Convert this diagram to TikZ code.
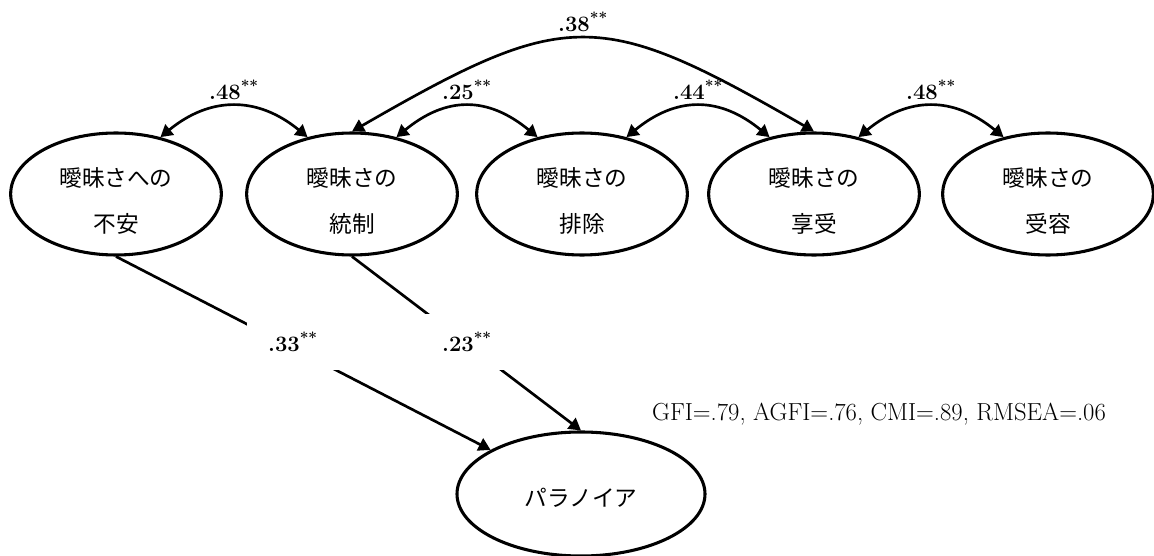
\documentclass[tikz,border=0pt]{standalone}
\usepackage{fontspec}
\usepackage{tikz}
\usetikzlibrary{arrows.meta}
\usetikzlibrary{shapes.geometric}
\newfontfamily\jpfont{Noto Sans CJK JP}

\tikzset{
  >={Triangle[length=9pt,width=10pt]},
  factor/.style={draw, ellipse, line width=2.3pt, minimum width=158pt, minimum height=91.5pt, inner sep=0pt, align=center, text height=58.5pt, font=\jpfont\fontsize{17}{34}\selectfont},
  cov/.style={line width=2pt, <->},
  reg/.style={line width=2pt, ->},
  coef/.style={font=\bfseries\fontsize{16.5}{19}\selectfont, anchor=south, inner sep=4pt},
  coefbox/.style={font=\bfseries\fontsize{16.5}{19}\selectfont, fill=white, minimum width=69pt, minimum height=42pt, inner sep=0pt},
  fitidx/.style={font=\fontsize{18.5}{22}\selectfont, inner sep=0pt}
}

\begin{document}
\begin{tikzpicture}[x=0.75pt,y=0.75pt,yscale=-1,xscale=1]
  \useasboundingbox (0,0) rectangle (1154,556); %diagram is 1154 wide and 556 high
  % Factor Nodes
  \node [factor] (fuan) at (116,194) {曖昧さへの\\不安};
  \node [factor] (tousei) at (352,194) {曖昧さの\\統制};
  \node [factor] (haijo) at (582,194) {曖昧さの\\排除};
  \node [factor] (kyouju) at (814,194) {曖昧さの\\享受};
  \node [factor] (juyou) at (1048,194) {曖昧さの\\受容};
  % Outcome Node
  \node [factor, minimum width=186pt, minimum height=93pt, text height=20pt] (para) at (581,494) {パラノイア};

  %Curved Lines
  \draw [cov] (fuan.52) .. controls +(50,-41) and +(-50,-41) .. (tousei.128) node [coef, midway] {.48\textsuperscript{**}};
  \draw [cov] (tousei.52) .. controls +(50,-41) and +(-50,-41) .. (haijo.128) node [coef, midway] {.25\textsuperscript{**}};
  \draw [cov] (haijo.52) .. controls +(50,-41) and +(-50,-41) .. (kyouju.128) node [coef, midway] {.44\textsuperscript{**}};
  \draw [cov] (kyouju.52) .. controls +(50,-41) and +(-50,-41) .. (juyou.128) node [coef, midway] {.48\textsuperscript{**}};
  \draw [cov] (tousei.north) .. controls +(215,-124) and +(-215,-124) .. (kyouju.north) node [coef, midway] {.38\textsuperscript{**}};

  %Straight Lines
  \draw [reg] (fuan.south) -- (para.154);
  \draw [reg] (tousei.south) -- (para.north);

  % Text Node
  \node [coefbox] (p1) at (293,342) {.33\textsuperscript{**}};
  % Text Node
  \node [coefbox] (p2) at (467,342) {.23\textsuperscript{**}};
  % Text Node
  \node [fitidx] (gfi) at (879,414) {GFI=.79, AGFI=.76, CMI=.89, RMSEA=.06};
\end{tikzpicture}
\end{document}
